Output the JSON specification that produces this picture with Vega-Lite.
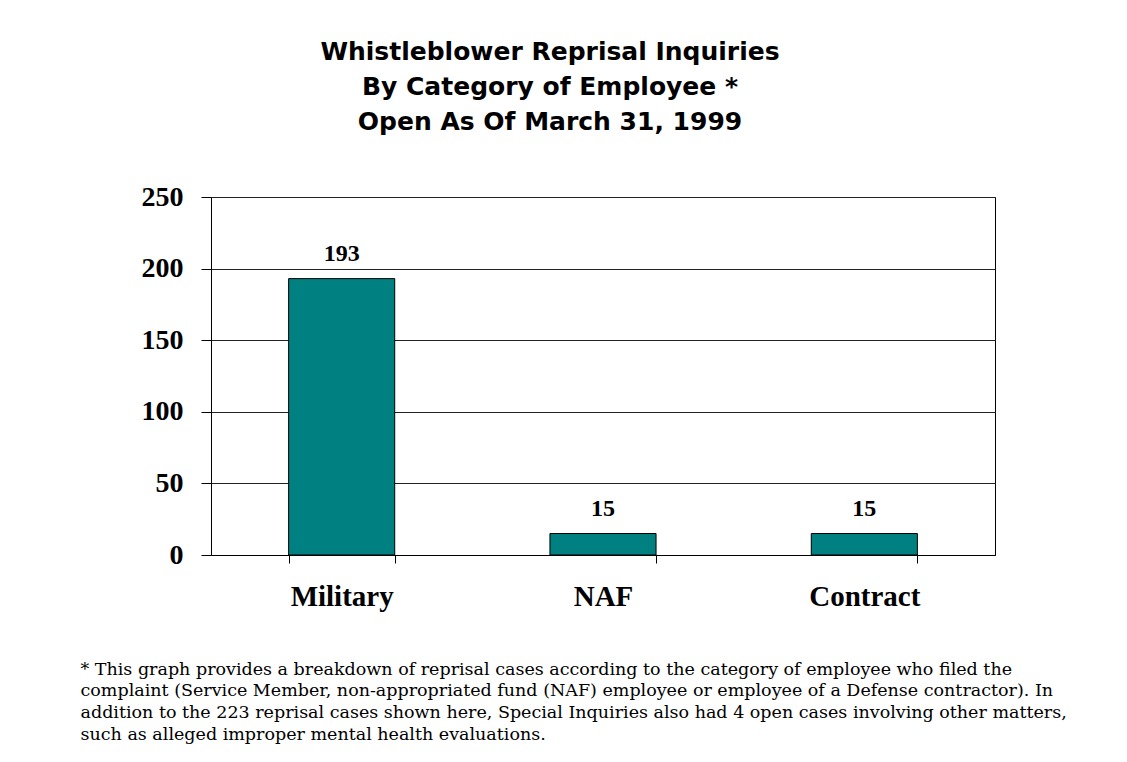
{
  "$schema": "https://vega.github.io/schema/vega-lite/v6.json",
  "width": 784,
  "height": 358,
  "autosize": {"type": "none"},
  "padding": {"left": 211, "top": 197, "right": 132, "bottom": 207},
  "background": "white",
  "title": {
    "text": ["Whistleblower Reprisal Inquiries", "By Category of Employee *", "Open As Of March 31, 1999"],
    "font": "DejaVu Sans",
    "fontSize": 25,
    "fontWeight": "bold",
    "lineHeight": 35,
    "anchor": "middle",
    "dx": -53,
    "offset": 48,
    "color": "black"
  },
  "data": {
    "values": [
      {"category": "Military", "count": 193},
      {"category": "NAF", "count": 15},
      {"category": "Contract", "count": 15}
    ]
  },
  "encoding": {
    "x": {
      "field": "category",
      "type": "nominal",
      "sort": null,
      "scale": {"paddingInner": 0.594, "paddingOuter": 0.297},
      "axis": {
        "title": [
          "* This graph provides a breakdown of reprisal cases according to the category of employee who filed the",
          "complaint (Service Member, non-appropriated fund (NAF)  employee or employee of a Defense contractor).  In",
          "addition to the 223 reprisal cases shown here, Special Inquiries also had 4 open cases involving other matters,",
          "such as alleged improper mental health evaluations."
        ],
        "titleFont": "DejaVu Serif",
        "titleFontSize": 17.5,
        "titleFontWeight": "normal",
        "titleColor": "black",
        "titleAlign": "left",
        "titleBaseline": "alphabetic",
        "titleX": -131,
        "titleY": 119,
        "titleLineHeight": 21.7,
        "titleLimit": 1500,
        "labelAngle": 0,
        "labelFont": "Liberation Serif",
        "labelFontSize": 29,
        "labelFontWeight": "bold",
        "labelColor": "black",
        "labelBaseline": "alphabetic",
        "labelPadding": 42,
        "tickBand": "extent",
        "tickSize": 8,
        "tickColor": "black",
        "domainColor": "black",
        "grid": false
      }
    },
    "y": {
      "field": "count",
      "type": "quantitative",
      "scale": {"domain": [0, 250], "nice": false},
      "axis": {
        "title": null,
        "values": [0, 50, 100, 150, 200, 250],
        "labelFont": "Liberation Serif",
        "labelFontSize": 28,
        "labelFontWeight": "bold",
        "labelColor": "black",
        "labelPadding": 18,
        "tickSize": 10,
        "tickColor": "black",
        "domainColor": "black",
        "grid": true,
        "gridColor": "#222222",
        "gridOpacity": 1
      }
    }
  },
  "layer": [
    {"mark": {"type": "bar", "fill": "#008080", "stroke": "black", "strokeWidth": 1}},
    {
      "mark": {"type": "text", "baseline": "alphabetic", "dy": -18, "font": "Liberation Serif", "fontWeight": "bold", "fontSize": 24, "color": "black"},
      "encoding": {"text": {"field": "count", "type": "quantitative"}}
    }
  ],
  "config": {"view": {"stroke": "black", "strokeWidth": 1}}
}
